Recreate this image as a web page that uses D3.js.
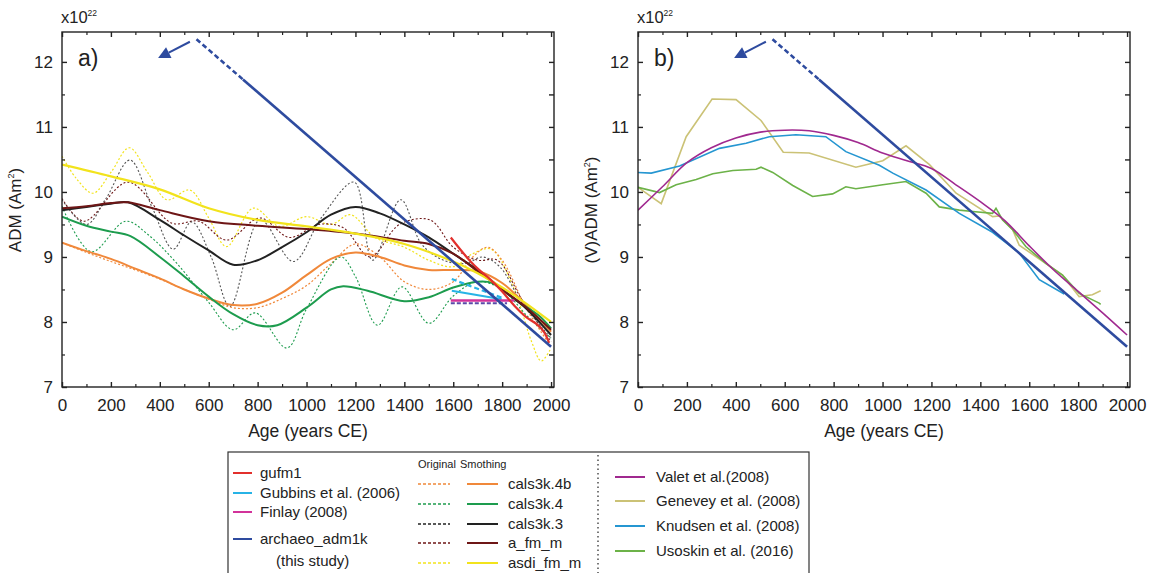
<!DOCTYPE html>
<html>
<head>
<meta charset="utf-8">
<script src="https://cdn.jsdelivr.net/npm/d3@7"></script>
<style>
body{margin:0;background:#fff;}
svg text{font-family:Arial,"Liberation Sans",sans-serif;fill:#222;}
</style>
</head>
<body>
<svg id="c" width="1153" height="573"></svg>
<script>
// ---------- data ----------
const xTicks = [0,200,400,600,800,1000,1200,1400,1600,1800,2000];
const yTicks = [7,8,9,10,11,12];

const gufm1 = [[1590,9.3],[1650,9.02],[1700,8.82],[1750,8.66],[1800,8.47],[1850,8.25],[1900,8.07],[1940,7.97],[1970,7.85],[1992,7.68]];
const gubbinsSolid = [[1594,8.48],[1798,8.35]];
const gubbinsDashed = [[1594,8.66],[1800,8.37]];
const finlay = [[1590,8.33],[1850,8.33]];
const finlayDashed = [[1590,8.29],[1820,8.29]];
const archaeoDashed = [[550,12.35],[740,11.73]];
const archaeoSolid = [[740,11.73],[2000,7.62]];
const arrowPts = [[523,12.31],[393,12.06]];

const cals3k4bOrig = [[0,9.22],[100,9.07],[200,8.93],[300,8.8],[400,8.66],[500,8.5],[600,8.35],[700,8.22],[800,8.22],[900,8.36],[1000,8.56],[1100,8.9],[1200,9.2],[1300,9.0],[1400,8.62],[1500,8.5],[1600,8.62],[1680,9.0],[1740,9.15],[1800,8.95],[1900,8.2],[2000,7.62]];
const cals3k4bSmooth = [[0,9.22],[100,9.09],[200,8.97],[300,8.82],[400,8.67],[500,8.5],[600,8.36],[700,8.26],[800,8.28],[900,8.45],[1000,8.72],[1100,8.97],[1200,9.07],[1300,9.0],[1400,8.87],[1500,8.8],[1600,8.8],[1700,8.78],[1800,8.6],[1900,8.25],[2000,7.85]];
const cals3k4Orig = [[0,9.78],[120,9.08],[260,9.55],[350,9.35],[470,8.9],[600,8.3],[700,7.88],[790,8.14],[920,7.6],[1000,8.2],[1140,9.0],[1200,8.7],[1290,7.95],[1390,8.54],[1500,7.98],[1600,8.4],[1700,8.62],[1800,8.5],[1900,8.1],[2000,7.75]];
const cals3k4Smooth = [[0,9.62],[100,9.48],[200,9.39],[280,9.32],[400,9.0],[500,8.7],[600,8.39],[700,8.12],[800,7.95],[880,7.95],[1000,8.22],[1100,8.5],[1150,8.55],[1250,8.48],[1400,8.32],[1500,8.38],[1600,8.53],[1700,8.62],[1760,8.6],[1850,8.35],[1950,8.1],[2000,7.9]];
const cals3k3Orig = [[0,9.88],[100,9.5],[180,9.9],[278,10.49],[370,9.75],[455,9.12],[530,9.54],[610,9.0],[687,8.24],[810,9.57],[946,8.93],[1060,9.6],[1195,10.15],[1270,8.95],[1385,9.88],[1470,9.2],[1560,8.95],[1650,8.9],[1720,9.0],[1790,8.85],[1880,8.3],[2000,7.75]];
const cals3k3Smooth = [[0,9.72],[100,9.77],[200,9.82],[270,9.84],[400,9.57],[500,9.33],[600,9.1],[700,8.88],[800,8.95],[900,9.15],[1000,9.38],[1100,9.65],[1200,9.77],[1300,9.67],[1400,9.5],[1500,9.3],[1600,9.05],[1700,8.8],[1800,8.5],[1900,8.2],[2000,7.8]];
const afmmOrig = [[0,9.9],[90,9.55],[270,10.15],[450,9.52],[560,9.55],[673,9.26],[810,9.6],[930,9.3],[1050,9.5],[1150,9.45],[1260,9.0],[1380,9.5],[1505,9.57],[1600,9.15],[1700,8.95],[1780,8.95],[1880,8.35],[2000,7.7]];
const afmmSmooth = [[0,9.75],[100,9.78],[200,9.83],[270,9.84],[400,9.72],[600,9.55],[800,9.48],[1000,9.43],[1200,9.36],[1400,9.25],[1500,9.2],[1600,9.05],[1700,8.78],[1800,8.5],[1900,8.22],[2000,7.88]];
const asdiOrig = [[0,10.55],[60,10.2],[127,9.98],[200,10.3],[275,10.68],[350,10.3],[429,9.88],[523,10.03],[600,9.6],[673,9.16],[782,9.75],[890,9.47],[1000,9.62],[1100,9.5],[1180,9.65],[1280,9.3],[1400,9.15],[1500,8.95],[1600,8.85],[1680,9.05],[1755,9.12],[1850,8.5],[1920,7.7],[1960,7.4],[2000,7.6]];
const asdiSmooth = [[0,10.42],[200,10.24],[400,10.04],[600,9.75],[800,9.57],[1000,9.47],[1200,9.36],[1400,9.2],[1600,8.93],[1700,8.75],[1800,8.53],[1900,8.28],[2000,8.0]];

const valet = [[0,9.72],[100,10.08],[200,10.45],[300,10.68],[400,10.83],[500,10.92],[600,10.95],[700,10.94],[800,10.87],[900,10.76],[1000,10.6],[1100,10.48],[1200,10.36],[1300,10.11],[1400,9.85],[1500,9.56],[1600,9.17],[1700,8.8],[1800,8.47],[1900,8.14],[2000,7.8]];
const genevey = [[0,10.07],[95,9.82],[197,10.85],[303,11.43],[401,11.42],[503,11.1],[594,10.61],[700,10.6],[891,10.38],[1001,10.48],[1096,10.71],[1192,10.42],[1301,9.98],[1450,9.62],[1477,9.63],[1532,9.42],[1559,9.18],[1668,8.9],[1736,8.72],[1804,8.39],[1858,8.42],[1892,8.48]];
const knudsen = [[0,10.3],[54,10.29],[170,10.4],[333,10.67],[442,10.75],[537,10.85],[646,10.88],[768,10.85],[850,10.62],[987,10.41],[1042,10.29],[1178,10.03],[1314,9.67],[1450,9.38],[1559,9.06],[1641,8.65],[1743,8.43]];
const usoskin = [[0,10.07],[88,9.99],[156,10.11],[238,10.19],[306,10.28],[388,10.33],[483,10.35],[503,10.38],[551,10.3],[633,10.1],[714,9.93],[796,9.97],[850,10.08],[891,10.05],[1001,10.11],[1096,10.16],[1178,9.98],[1232,9.77],[1314,9.72],[1369,9.7],[1450,9.67],[1464,9.75],[1491,9.57],[1532,9.42],[1586,9.16],[1668,8.9],[1736,8.72],[1804,8.44],[1886,8.29],[1892,8.27]];

// ---------- colours ----------
const C = {
  gufm1:"#e2302c", gubbins:"#27b3e6", finlay:"#d2329a", archaeo:"#2e4b9f",
  c4b:"#f0883a", c4:"#1d9c4e", c3:"#222222", afm:"#6e1616", asdi:"#f2e31c",
  valet:"#a0298f", genevey:"#cbc276", knudsen:"#2596d1", usoskin:"#6cb248"
};

const svg = d3.select("#c");

function panel(x0, x1, label, ylabel, draw){
  const x = d3.scaleLinear().domain([0,2012]).range([x0,x1]);
  const y = d3.scaleLinear().domain([7,12.46]).range([387,32]);
  const g = svg.append("g");
  const smooth = d3.line().x(d=>x(d[0])).y(d=>y(d[1])).curve(d3.curveCatmullRom.alpha(0.5));
  const lin = d3.line().x(d=>x(d[0])).y(d=>y(d[1]));
  const clip = "clip"+label.replace(")","");
  svg.append("clipPath").attr("id",clip).append("rect").attr("x",x0).attr("y",32).attr("width",x1-x0).attr("height",355);
  const plot = g.append("g").attr("clip-path",`url(#${clip})`);
  draw(plot, x, y, smooth, lin);

  // frame
  g.append("rect").attr("x",x0).attr("y",32).attr("width",x1-x0).attr("height",355)
    .attr("fill","none").attr("stroke","#222").attr("stroke-width",1.4);
  const xMinor = d3.range(100,2001,200);
  const ax = g.append("g").attr("transform","translate(0,387)")
    .call(d3.axisBottom(x).tickValues(xTicks).tickSize(-5).tickPadding(12).tickFormat(d3.format("d")));
  ax.select(".domain").remove();
  ax.selectAll("text").attr("font-size",17).attr("fill","#222");
  ax.selectAll("line").attr("stroke","#222").attr("stroke-width",1.4);
  const axm = g.append("g").attr("transform","translate(0,387)")
    .call(d3.axisBottom(x).tickValues(xMinor).tickSize(-3).tickFormat(""));
  axm.select(".domain").remove();
  axm.selectAll("line").attr("stroke","#222").attr("stroke-width",1.2);
  const at = g.append("g").attr("transform","translate(0,32)")
    .call(d3.axisTop(x).tickValues(xTicks).tickSize(-5).tickFormat(""));
  at.select(".domain").remove(); at.selectAll("line").attr("stroke","#222").attr("stroke-width",1.4);
  const atm = g.append("g").attr("transform","translate(0,32)")
    .call(d3.axisTop(x).tickValues(xMinor).tickSize(-3).tickFormat(""));
  atm.select(".domain").remove(); atm.selectAll("line").attr("stroke","#222").attr("stroke-width",1.2);
  const yMinor = [7.5,8.5,9.5,10.5,11.5];
  const al = g.append("g").attr("transform",`translate(${x0},0)`)
    .call(d3.axisLeft(y).tickValues(yTicks).tickSize(-5).tickPadding(9).tickFormat(d3.format("d")));
  al.select(".domain").remove();
  al.selectAll("text").attr("font-size",17).attr("fill","#222");
  al.selectAll("line").attr("stroke","#222").attr("stroke-width",1.4);
  const alm = g.append("g").attr("transform",`translate(${x0},0)`)
    .call(d3.axisLeft(y).tickValues(yMinor).tickSize(-3).tickFormat(""));
  alm.select(".domain").remove(); alm.selectAll("line").attr("stroke","#222").attr("stroke-width",1.2);
  const ar = g.append("g").attr("transform",`translate(${x1},0)`)
    .call(d3.axisRight(y).tickValues(yTicks.concat(yMinor)).tickSize(-5).tickFormat(""));
  ar.select(".domain").remove(); ar.selectAll("line").attr("stroke","#222").attr("stroke-width",1.4);

  const t = g.append("text").attr("x",x0-1).attr("y",23).attr("font-size",16.5);
  t.append("tspan").text("x10");
  t.append("tspan").attr("font-size",8.5).attr("dy",-7).text("22");
  g.append("text").attr("x",x0+16).attr("y",66).attr("font-size",23).text(label);
  g.append("text").attr("x",(x0+x1)/2).attr("y",437).attr("text-anchor","middle").attr("font-size",17.5).text("Age (years CE)");
  const yl = g.append("text").attr("transform",`translate(${x0-41},210) rotate(-90)`).attr("text-anchor","middle").attr("font-size",17);
  yl.append("tspan").text(ylabel+" (Am");
  yl.append("tspan").attr("font-size",9).attr("dy",-7).text("2");
  yl.append("tspan").attr("dy",7).text(")");

  const top = g.append("g");
  top.append("path").attr("d",lin(archaeoDashed)).attr("fill","none").attr("stroke",C.archaeo).attr("stroke-width",2.6).attr("stroke-dasharray","5,3");
  top.append("path").attr("d",lin(archaeoSolid)).attr("fill","none").attr("stroke",C.archaeo).attr("stroke-width",2.6);
  const p0 = [x(arrowPts[0][0]), y(arrowPts[0][1])], p1 = [x(arrowPts[1][0]), y(arrowPts[1][1])];
  const ang = Math.atan2(p1[1]-p0[1], p1[0]-p0[0]);
  const hl = 12, hw = 6;
  const bx = p1[0]-hl*Math.cos(ang), by = p1[1]-hl*Math.sin(ang);
  top.append("line").attr("x1",p0[0]).attr("y1",p0[1]).attr("x2",bx).attr("y2",by).attr("stroke",C.archaeo).attr("stroke-width",2);
  top.append("path").attr("d",`M${p1[0]},${p1[1]}L${bx+hw*Math.sin(ang)},${by-hw*Math.cos(ang)}L${bx-hw*Math.sin(ang)},${by+hw*Math.cos(ang)}Z`).attr("fill",C.archaeo);
}

function path(g, d, gen, color, w, dash){
  const p = g.append("path").attr("d",gen(d)).attr("fill","none").attr("stroke",color).attr("stroke-width",w);
  if(dash) p.attr("stroke-dasharray",dash);
  return p;
}

panel(62, 554, "a)", "ADM", (g,x,y,smooth,lin)=>{
  path(g, asdiOrig, smooth, C.asdi, 1.2, "2,2");
  path(g, cals3k4bOrig, smooth, C.c4b, 1.2, "2,2");
  path(g, cals3k4Orig, smooth, C.c4, 1.1, "2,2");
  path(g, afmmOrig, smooth, C.afm, 1.1, "2,2");
  path(g, cals3k3Orig, smooth, "#555", 1.1, "2,2");
  path(g, cals3k4bSmooth, smooth, C.c4b, 2);
  path(g, cals3k4Smooth, smooth, C.c4, 2);
  path(g, cals3k3Smooth, smooth, C.c3, 2);
  path(g, afmmSmooth, smooth, C.afm, 2);
  path(g, asdiSmooth, smooth, C.asdi, 2.2);
  path(g, gubbinsDashed, lin, C.gubbins, 2.2, "5,3");
  path(g, gubbinsSolid, lin, C.gubbins, 2.2);
  path(g, finlayDashed, lin, "#5a4aa8", 2, "4,2");
  path(g, finlay, lin, C.finlay, 2.6);
  path(g, gufm1, smooth, C.gufm1, 2.2);
});

panel(638, 1130, "b)", "(V)ADM", (g,x,y,smooth,lin)=>{
  path(g, genevey, lin, C.genevey, 1.6);
  path(g, usoskin, lin, C.usoskin, 1.6);
  path(g, knudsen, lin, C.knudsen, 1.6);
  path(g, valet, smooth, C.valet, 1.6);
});

// ---------- legend ----------
const lg = svg.append("g");
lg.append("rect").attr("x",228).attr("y",452).attr("width",581).attr("height",140).attr("fill","none").attr("stroke","#333").attr("stroke-width",1.2);
lg.append("line").attr("x1",598).attr("x2",598).attr("y1",455).attr("y2",573).attr("stroke","#333").attr("stroke-width",1.3).attr("stroke-dasharray","1.5,3");

const leftItems = [
  {name:"gufm1", c:C.gufm1, y:473},
  {name:"Gubbins et al. (2006)", c:C.gubbins, y:493},
  {name:"Finlay (2008)", c:C.finlay, y:512},
  {name:"archaeo_adm1k", c:C.archaeo, y:539}
];
leftItems.forEach(d=>{
  lg.append("line").attr("x1",233).attr("x2",252).attr("y1",d.y).attr("y2",d.y).attr("stroke",d.c).attr("stroke-width",2);
  lg.append("text").attr("x",260).attr("y",d.y+5).attr("font-size",15).text(d.name);
});
lg.append("text").attr("x",276).attr("y",566).attr("font-size",15).text("(this study)");

lg.append("text").attr("x",418).attr("y",468).attr("font-size",11).text("Original");
lg.append("text").attr("x",460).attr("y",468).attr("font-size",11).text("Smothing");
const midItems = [
  {name:"cals3k.4b", c:C.c4b, y:484},
  {name:"cals3k.4", c:C.c4, y:504},
  {name:"cals3k.3", c:C.c3, y:524},
  {name:"a_fm_m", c:C.afm, y:543},
  {name:"asdi_fm_m", c:C.asdi, y:563}
];
midItems.forEach(d=>{
  lg.append("line").attr("x1",418).attr("x2",450).attr("y1",d.y).attr("y2",d.y).attr("stroke",d.c).attr("stroke-width",1.6).attr("stroke-dasharray","3,2");
  lg.append("line").attr("x1",467).attr("x2",498).attr("y1",d.y).attr("y2",d.y).attr("stroke",d.c).attr("stroke-width",2);
  lg.append("text").attr("x",508).attr("y",d.y+5).attr("font-size",15).text(d.name);
});
const rightItems = [
  {name:"Valet et al.(2008)", c:C.valet, y:477},
  {name:"Genevey et al. (2008)", c:C.genevey, y:501},
  {name:"Knudsen et al. (2008)", c:C.knudsen, y:526},
  {name:"Usoskin et al. (2016)", c:C.usoskin, y:551}
];
rightItems.forEach(d=>{
  lg.append("line").attr("x1",615).attr("x2",645).attr("y1",d.y).attr("y2",d.y).attr("stroke",d.c).attr("stroke-width",2);
  lg.append("text").attr("x",656).attr("y",d.y+5).attr("font-size",15).text(d.name);
});
</script>
</body>
</html>
